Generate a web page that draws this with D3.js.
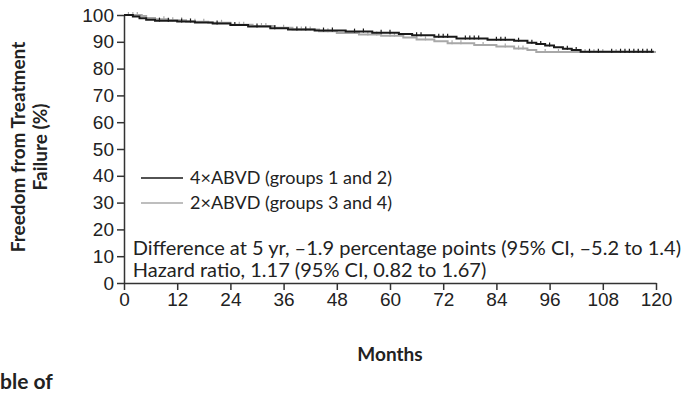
<!DOCTYPE html>
<html>
<head>
<meta charset="utf-8">
<script src="https://cdn.jsdelivr.net/npm/d3@7"></script>
<style>
  html, body { margin: 0; padding: 0; background: #fff; }
  svg { display: block; font-family: Lato, "Open Sans", sans-serif; }
</style>
</head>
<body>
<div id="chart"></div>
<script>
// step points [month, percent]
const black4ABVD = [
  [0, 100], [2, 99.4], [3.5, 98.8], [5, 98.2], [7, 97.9], [12, 97.6], [16, 97.2],
  [20, 96.8], [24, 96.3], [28, 95.7], [33, 95.1], [37, 94.6], [43, 94.2], [50, 93.8],
  [56, 93.4], [62, 92.9], [65, 92.4], [70, 91.9], [75, 91.2], [82, 90.8], [88, 90.4],
  [91, 89.6], [93, 89.2], [95, 88.6], [97, 88.0], [99, 87.4], [101, 86.9], [103, 86.3],
  [119.5, 86.3]
];
const gray2ABVD = [
  [0, 100], [4, 99.6], [5, 98.9], [7, 98.4], [10, 98.0], [14, 97.5], [19, 97.1],
  [24, 96.4], [29, 95.9], [34, 95.2], [38, 94.6], [44, 93.9], [48, 93.3], [53, 92.7],
  [58, 92.3], [63, 91.6], [66, 90.9], [70, 90.2], [73, 89.5], [79, 88.8], [84, 88.2],
  [88, 87.5], [91, 86.9], [93, 86.2], [120, 86.2]
];
// censoring marks (months)
const blackCensor = [8, 10, 13, 15, 21, 25, 30, 34, 39, 41, 45, 47, 52, 54, 58, 60, 66, 67,
  71, 72, 73, 77, 78, 79, 80, 84, 85, 86, 89, 92, 94, 96, 100, 102, 105, 107, 110, 112,
  113, 114, 115, 116, 117, 118, 119];
const grayCensor = [1, 2, 3, 9, 11, 13, 16, 18, 22, 26, 27, 31, 32, 36, 40, 42, 46, 50, 55,
  57, 60, 61, 68, 74, 76, 81, 86, 89, 90, 95, 98, 101, 104, 106, 108, 111, 116];

const seriesNames = ['4\u00d7ABVD (groups 1 and 2)', '2\u00d7ABVD (groups 3 and 4)'];
const seriesColors = ['#1a1a1a', '#a8a8a8'];
const xTicks = [0, 12, 24, 36, 48, 60, 72, 84, 96, 108, 120];
const yTicks = [0, 10, 20, 30, 40, 50, 60, 70, 80, 90, 100];
const notes = [
  'Difference at 5 yr, \u20131.9 percentage points (95% CI, \u20135.2 to 1.4)',
  'Hazard ratio, 1.17 (95% CI, 0.82 to 1.67)'
];

const width = 690, height = 393;
const margin = { top: 15, right: 34, bottom: 110, left: 124 };

const svg = d3.select('#chart').append('svg')
  .attr('width', width)
  .attr('height', height);

const x = d3.scaleLinear().domain([0, 120]).range([margin.left, width - margin.right]);
const y = d3.scaleLinear().domain([0, 100]).range([height - margin.bottom, margin.top]);

const axisColor = '#333';
const textColor = '#222';

// EJE Y
const yAxisGroup = svg.append('g')
  .attr('transform', `translate(${margin.left},0)`)
  .call(d3.axisLeft(y).tickValues(yTicks).tickSize(7).tickSizeOuter(0).tickPadding(3));
yAxisGroup.select('.domain').attr('stroke', axisColor).attr('stroke-width', 1.5);
yAxisGroup.selectAll('.tick line').attr('stroke', axisColor).attr('stroke-width', 1.5);
yAxisGroup.selectAll('text').style('font-size', '19px').style('fill', textColor);

// EJE X
const xAxisGroup = svg.append('g')
  .attr('transform', `translate(0,${y(0)})`)
  .call(d3.axisBottom(x).tickValues(xTicks).tickSize(7).tickSizeOuter(0).tickPadding(3));
xAxisGroup.select('.domain').attr('stroke', axisColor).attr('stroke-width', 1.5);
xAxisGroup.selectAll('.tick line').attr('stroke', axisColor).attr('stroke-width', 1.5);
xAxisGroup.selectAll('text').style('font-size', '19px').style('fill', textColor);

// titulos
svg.append('text')
  .attr('x', x(60))
  .attr('y', y(0) + 78)
  .attr('text-anchor', 'middle')
  .style('font-size', '19px')
  .style('font-weight', 'bold')
  .style('fill', textColor)
  .text('Months');

const yTitle = svg.append('text')
  .attr('transform', `translate(25,147) rotate(-90)`)
  .attr('text-anchor', 'middle')
  .style('font-size', '19px')
  .style('font-weight', 'bold')
  .style('fill', textColor);
yTitle.append('tspan').attr('x', 0).attr('dy', 0).text('Freedom from Treatment');
yTitle.append('tspan').attr('x', 0).attr('dy', 22).text('Failure (%)');

// CURVAS
const line = d3.line()
  .x((d) => x(d[0]))
  .y((d) => y(d[1]))
  .curve(d3.curveStepAfter);

function stepValue(data, t) {
  let v = data[0][1];
  for (const d of data) { if (d[0] <= t) v = d[1]; }
  return v;
}

[[gray2ABVD, grayCensor, seriesColors[1]], [black4ABVD, blackCensor, seriesColors[0]]]
  .forEach(([data, censor, color]) => {
    svg.append('path')
      .datum(data)
      .attr('fill', 'none')
      .attr('stroke', color)
      .attr('stroke-width', 2)
      .attr('d', line);

    svg.selectAll(null)
      .data(censor)
      .enter()
      .append('line')
      .attr('x1', (t) => x(t))
      .attr('x2', (t) => x(t))
      .attr('y1', (t) => y(stepValue(data, t)) - 3)
      .attr('y2', (t) => y(stepValue(data, t)) + 1)
      .attr('stroke', color)
      .attr('stroke-width', 1.2);
  });

// LEYENDA
const legend = svg.append('g')
  .attr('transform', `translate(141, 178)`);

seriesNames.forEach((name, i) => {
  const g = legend.append('g').attr('transform', `translate(0, ${i * 25})`);
  g.append('line')
    .attr('x1', 0).attr('x2', 42)
    .attr('stroke', seriesColors[i])
    .attr('stroke-width', 1.5);
  g.append('text')
    .attr('x', 49)
    .attr('y', 6)
    .style('font-size', '18px')
    .style('fill', textColor)
    .text(name);
});

// NOTAS
notes.forEach((n, i) => {
  svg.append('text')
    .attr('x', x(2))
    .attr('y', 255 + i * 22)
    .style('font-size', '20px')
    .style('fill', textColor)
    .text(n);
});

// texto cortado abajo
svg.append('text')
  .attr('x', 0)
  .attr('y', 389)
  .style('font-size', '21px')
  .style('font-weight', 'bold')
  .style('fill', textColor)
  .text('ble of');
</script>
</body>
</html>
